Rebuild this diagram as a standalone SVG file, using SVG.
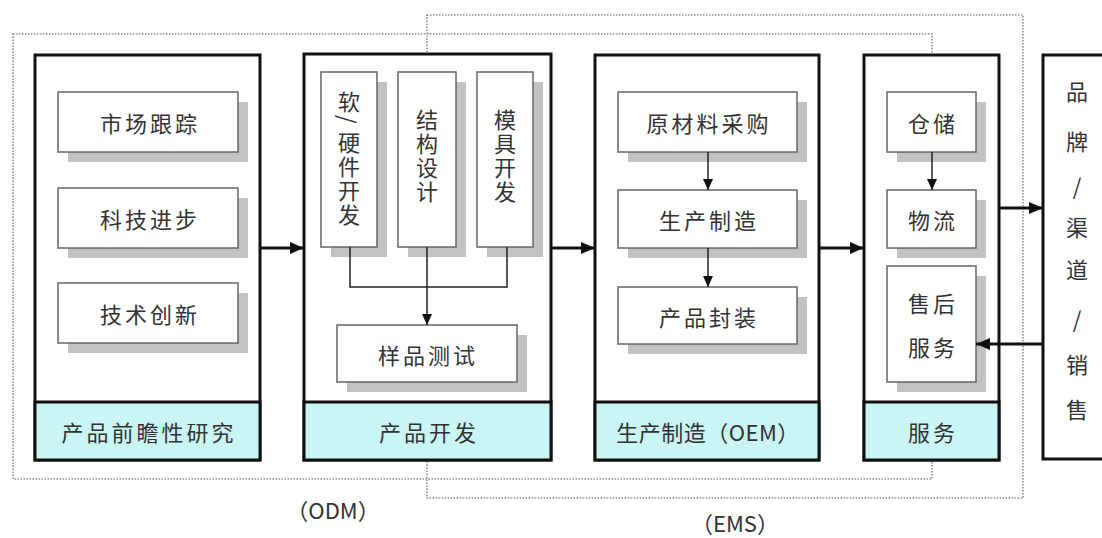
<svg xmlns="http://www.w3.org/2000/svg" width="1102" height="538" viewBox="0 0 1102 538">
<style>
.dot{fill:none;stroke:#8f8f8f;stroke-width:1.6;stroke-dasharray:1.5 1.5}
.col{fill:#fff;stroke:#111;stroke-width:3}
.band{fill:#c9f5f5;stroke:#111;stroke-width:3}
.box{fill:#fff;stroke:#666;stroke-width:1.5}
.sh{fill:#c2c2c2}
.t{font-family:"Noto Sans CJK SC","Noto Sans",sans-serif;font-size:22px;fill:#333;text-anchor:middle;dominant-baseline:central;letter-spacing:3px}
.v{font-family:"Noto Sans CJK SC","Noto Sans",sans-serif;font-size:22px;fill:#333;text-anchor:middle;dominant-baseline:central}
.vt{font-family:"Noto Sans CJK SC","Noto Sans",sans-serif;font-size:22px;fill:#333;writing-mode:vertical-rl;letter-spacing:2px}
.thick{stroke:#111;stroke-width:3;fill:none}
.thin{stroke:#222;stroke-width:1.5;fill:none}
</style>
<defs>
<marker id="ah" markerUnits="userSpaceOnUse" markerWidth="14" markerHeight="12" refX="14" refY="6" orient="auto"><path d="M0,0 L14,6 L0,12 z" fill="#111"/></marker>
<marker id="as" markerUnits="userSpaceOnUse" markerWidth="11" markerHeight="10" refX="11" refY="5" orient="auto"><path d="M0,0 L11,5 L0,10 z" fill="#111"/></marker>
</defs>
<rect width="1102" height="538" fill="#fff"/>
<g id="odm-frame">
<rect class="dot" x="13" y="34" width="919" height="445"/>
<text class="v" x="333" y="509" font-size="20">（ODM）</text>
</g>
<g id="ems-frame">
<rect class="dot" x="427" y="15" width="596" height="483"/>
<text class="v" x="735" y="522" font-size="20">（EMS）</text>
</g>
<g id="col1">
<rect class="col" x="35" y="55" width="225" height="405"/>
<rect class="band" x="35" y="402" width="225" height="58"/>
<text class="t" x="149" y="431">产品前瞻性研究</text>
<rect class="sh" x="68" y="102" width="180" height="60"/>
<rect class="box" x="58" y="92" width="180" height="60"/>
<text class="t" x="150" y="122">市场跟踪</text>
<rect class="sh" x="68" y="198" width="180" height="60"/>
<rect class="box" x="58" y="188" width="180" height="60"/>
<text class="t" x="150" y="218">科技进步</text>
<rect class="sh" x="68" y="293" width="180" height="60"/>
<rect class="box" x="58" y="283" width="180" height="60"/>
<text class="t" x="150" y="313">技术创新</text>
</g>
<g id="col2">
<rect class="col" x="304" y="54" width="247" height="406"/>
<rect class="band" x="304" y="402" width="247" height="58"/>
<text class="t" x="429" y="431">产品开发</text>
<rect class="sh" x="331" y="82" width="56" height="175"/>
<rect class="box" x="321" y="72" width="56" height="175"/>
<text class="vt" x="349" y="91">软<tspan style="letter-spacing:8px">/</tspan>硬件开发</text>
<rect class="sh" x="408" y="82" width="58" height="175"/>
<rect class="box" x="398" y="72" width="58" height="175"/>
<text class="vt" x="427" y="109">结构设计</text>
<rect class="sh" x="487" y="82" width="56" height="175"/>
<rect class="box" x="477" y="72" width="56" height="175"/>
<text class="vt" x="505" y="109">模具开发</text>
<rect class="sh" x="347" y="335" width="180" height="57"/>
<rect class="box" x="337" y="325" width="180" height="57"/>
<text class="t" x="428" y="354">样品测试</text>
</g>
<g id="col3">
<rect class="col" x="595" y="55" width="224" height="405"/>
<rect class="band" x="595" y="402" width="224" height="58"/>
<text class="t" x="708" y="431" style="letter-spacing:0.5px">生产制造（OEM）</text>
<rect class="sh" x="628" y="102" width="179" height="60"/>
<rect class="box" x="618" y="92" width="179" height="60"/>
<text class="t" x="709" y="122">原材料采购</text>
<rect class="sh" x="628" y="200" width="179" height="58"/>
<rect class="box" x="618" y="190" width="179" height="58"/>
<text class="t" x="709" y="219">生产制造</text>
<rect class="sh" x="628" y="297" width="179" height="57"/>
<rect class="box" x="618" y="287" width="179" height="57"/>
<text class="t" x="709" y="316">产品封装</text>
</g>
<g id="col4">
<rect class="col" x="864" y="55" width="135" height="405"/>
<rect class="band" x="864" y="402" width="135" height="58"/>
<text class="t" x="933" y="431">服务</text>
<rect class="sh" x="897" y="102" width="89" height="60"/>
<rect class="box" x="887" y="92" width="89" height="60"/>
<text class="t" x="933" y="122">仓储</text>
<rect class="sh" x="897" y="200" width="89" height="58"/>
<rect class="box" x="887" y="190" width="89" height="58"/>
<text class="t" x="933" y="219">物流</text>
<rect class="sh" x="897" y="276" width="89" height="116"/>
<rect class="box" x="887" y="266" width="89" height="116"/>
<text class="t" x="933" y="302">售后</text>
<text class="t" x="933" y="346">服务</text>
</g>
<g id="brand">
<rect class="col" x="1043" y="55" width="80" height="404"/>
<text class="v" x="1077" y="90">品</text>
<text class="v" x="1077" y="140">牌</text>
<text class="v" x="1077" y="185">/</text>
<text class="v" x="1077" y="226">渠</text>
<text class="v" x="1077" y="268">道</text>
<text class="v" x="1077" y="318">/</text>
<text class="v" x="1077" y="363">销</text>
<text class="v" x="1077" y="408">售</text>
</g>
<g id="connectors">
<line class="thick" x1="260" y1="248" x2="304" y2="248" marker-end="url(#ah)"/>
<line class="thick" x1="551" y1="248" x2="595" y2="248" marker-end="url(#ah)"/>
<line class="thick" x1="819" y1="248" x2="864" y2="248" marker-end="url(#ah)"/>
<line class="thick" x1="999" y1="208" x2="1043" y2="208" marker-end="url(#ah)"/>
<line class="thick" x1="1043" y1="344" x2="976" y2="344" marker-end="url(#ah)"/>
<path class="thin" d="M350,247 V287 H507 V247"/>
<line class="thin" x1="427" y1="247" x2="427" y2="325" marker-end="url(#as)"/>
<line class="thin" x1="708" y1="152" x2="708" y2="190" marker-end="url(#as)"/>
<line class="thin" x1="708" y1="248" x2="708" y2="287" marker-end="url(#as)"/>
<line class="thin" x1="932" y1="152" x2="932" y2="190" marker-end="url(#as)"/>
</g>
</svg>
